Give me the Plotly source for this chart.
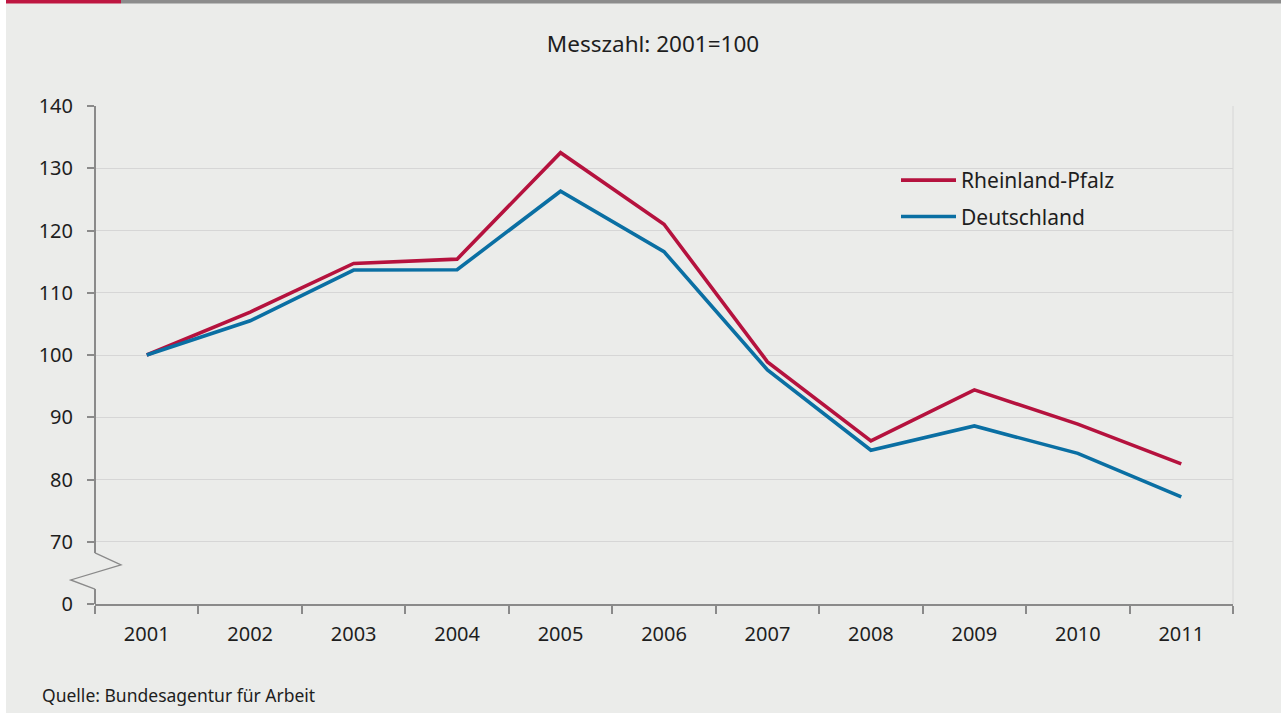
import plotly.graph_objects as go

years = ["2001", "2002", "2003", "2004", "2005", "2006", "2007", "2008", "2009", "2010", "2011"]
rheinland_pfalz = [100, 106.9, 114.7, 115.4, 132.5, 121.0, 98.9, 86.2, 94.4, 88.9, 82.5]
deutschland = [100, 105.5, 113.65, 113.7, 126.3, 116.6, 97.6, 84.7, 88.6, 84.2, 77.2]
y_tick_values = [60, 70, 80, 90, 100, 110, 120, 130, 140]
y_tick_labels = ["0", "70", "80", "90", "100", "110", "120", "130", "140"]

RED = "#b5123e"
BLUE = "#0a6fa3"
AXIS = "#8a8a8a"
GRID = "#d6d6d6"
BG = "#ebecea"
FONT = "Noto Sans"
TXT = "#1e1e1e"

fig = go.Figure()
fig.add_trace(go.Scatter(x=years, y=rheinland_pfalz, mode="lines", name="Rheinland-Pfalz",
                         line=dict(color=RED, width=3.6), legendgroup="a"))
fig.add_trace(go.Scatter(x=years, y=deutschland, mode="lines", name="Deutschland",
                         line=dict(color=BLUE, width=3.6), legendgroup="b"))

W, H = 1281, 713
L, R, T, B = 95, 48, 106, 109
pw = W - L - R
ph = H - T - B

def px2paper_x(px):
    return (px - L) / pw

def px2paper_y(py):
    return (H - B - py) / ph

shapes = []
# white strip left
shapes.append(dict(type="rect", xref="paper", yref="paper",
                   x0=px2paper_x(0), x1=px2paper_x(6), y0=px2paper_y(H), y1=px2paper_y(0),
                   fillcolor="white", line=dict(width=0), layer="below"))
# top bar
shapes.append(dict(type="rect", xref="paper", yref="paper",
                   x0=px2paper_x(6), x1=px2paper_x(121), y0=px2paper_y(3.5), y1=px2paper_y(0),
                   fillcolor="#be1641", line=dict(width=0)))
shapes.append(dict(type="rect", xref="paper", yref="paper",
                   x0=px2paper_x(121), x1=px2paper_x(W), y0=px2paper_y(3.5), y1=px2paper_y(0),
                   fillcolor="#8c8c8c", line=dict(width=0)))
# right border of plot
shapes.append(dict(type="line", xref="paper", yref="paper", x0=1, x1=1, y0=0, y1=1,
                   line=dict(color=GRID, width=1)))
# y axis with break
def yp(v):
    return (v - 60) / 80
shapes.append(dict(type="line", xref="paper", yref="paper", x0=0, x1=0, y0=yp(68.2), y1=1,
                   line=dict(color=AXIS, width=2)))
shapes.append(dict(type="line", xref="paper", yref="paper", x0=0, x1=0, y0=0, y1=yp(62.4),
                   line=dict(color=AXIS, width=2)))
shapes.append(dict(type="path", xref="paper", yref="paper",
                   path=f"M 0,{yp(68.2)} L {px2paper_x(121)},{yp(66.27)} L {px2paper_x(70.7)},{yp(63.86)} L 0,{yp(62.4)}",
                   line=dict(color=AXIS, width=1.3)))

fig.update_layout(
    width=W, height=H,
    margin=dict(l=L, r=R, t=T, b=B),
    paper_bgcolor=BG, plot_bgcolor=BG,
    font=dict(family=FONT, size=20, color=TXT),
    title=dict(text="Messzahl: 2001=100", x=653 / W, xanchor="center", y=1 - 44 / H, yanchor="middle",
               font=dict(family=FONT, size=22.5, color=TXT)),
    showlegend=True,
    legend=dict(x=px2paper_x(896), y=px2paper_y(160), xanchor="left", yanchor="top",
                bgcolor="rgba(0,0,0,0)", traceorder="grouped", tracegroupgap=6,
                font=dict(family=FONT, size=21, color=TXT), itemwidth=55),
    shapes=shapes,
    annotations=[dict(text="Quelle: Bundesagentur für Arbeit", xref="paper", yref="paper",
                      x=px2paper_x(40), y=px2paper_y(695), xanchor="left", yanchor="middle",
                      showarrow=False, font=dict(family=FONT, size=17.5, color=TXT))],
)
fig.update_xaxes(type="category", range=[-0.5, 10.5], showline=True, linecolor=AXIS, linewidth=2,
                 ticks="outside", tickson="boundaries", ticklen=8, tickcolor=AXIS, tickwidth=1.5,
                 showgrid=False, zeroline=False, ticklabelstandoff=11)
fig.update_yaxes(range=[60, 140], tickmode="array", tickvals=y_tick_values, ticktext=y_tick_labels,
                 showline=False, ticks="outside", ticklen=7, tickcolor=AXIS, tickwidth=1.5,
                 showgrid=True, gridcolor=GRID, gridwidth=1, zeroline=False, ticklabelstandoff=10)

fig.write_html("out.html", config={"displayModeBar": False},
               post_script="document.body.style.margin='0';")
